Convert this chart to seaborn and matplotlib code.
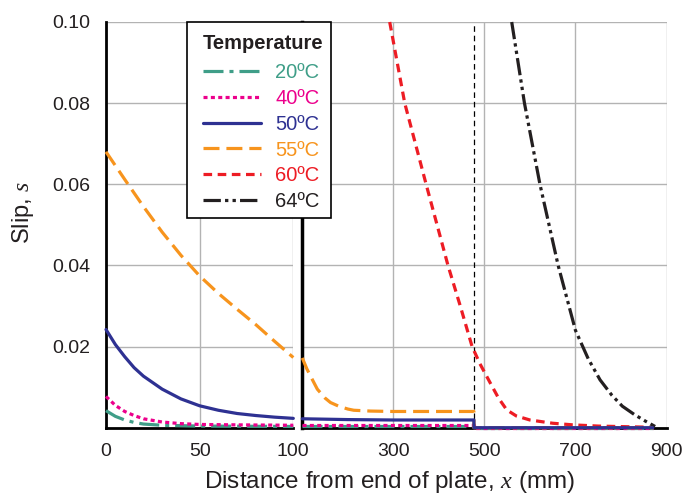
import matplotlib
matplotlib.use("Agg")
import matplotlib.pyplot as plt
import matplotlib.patches as mpatches
import seaborn as sns
import pandas as pd

# ---------------- data ----------------
temps = ["20ºC", "40ºC", "50ºC", "55ºC", "60ºC", "64ºC"]
colors = ["#3f9e88", "#ec008c", "#2e3192", "#f7941d", "#ed1c24", "#231f20"]

# left panel: 0-100 mm
x_l_20 = [0, 5, 10, 15, 20, 30, 50, 100]
s_l_20 = [0.0042, 0.0028, 0.0019, 0.0013, 0.0009, 0.0006, 0.0004, 0.0003]
x_l_40 = [0, 5, 10, 15, 20, 30, 40, 50, 70, 100]
s_l_40 = [0.0077, 0.0055, 0.0040, 0.0030, 0.0022, 0.0014, 0.0010, 0.0008, 0.0007, 0.0006]
x_l_50 = [0, 5, 10, 15, 20, 25, 30, 40, 50, 60, 70, 80, 90, 100]
s_l_50 = [0.0242, 0.0205, 0.0175, 0.0148, 0.0127, 0.0111, 0.0095, 0.0071, 0.0054,
          0.0043, 0.0035, 0.0030, 0.0026, 0.0023]
x_l_55 = [0, 10, 20, 30, 40, 50, 60, 70, 80, 90, 100]
s_l_55 = [0.0680, 0.0612, 0.0545, 0.0482, 0.0425, 0.0374, 0.0331, 0.0292, 0.0254,
          0.0213, 0.0173]

# right panel: 100-900 mm (step down at 477 mm)
x_r_20 = [100, 477, 477, 870]
s_r_20 = [0.0003, 0.0003, 0.0, 0.0]
x_r_40 = [100, 477, 477, 870]
s_r_40 = [0.0006, 0.0006, 0.0, 0.0]
x_r_50 = [100, 200, 300, 477, 477, 870]
s_r_50 = [0.0022, 0.0020, 0.0019, 0.0019, 0.0, 0.0]
x_r_55 = [100, 110, 120, 133, 150, 162, 180, 200, 213, 250, 300, 400, 477, 477, 870]
s_r_55 = [0.0172, 0.0145, 0.0123, 0.0095, 0.0073, 0.0062, 0.0053, 0.0046, 0.0043,
          0.0041, 0.0040, 0.0040, 0.0040, 0.0, 0.0]
x_r_60 = [292, 325, 372, 420, 447, 473, 490, 513, 531, 549, 570, 600, 650, 694, 750, 870]
s_r_60 = [0.100, 0.080, 0.060, 0.040, 0.030, 0.020, 0.0158, 0.0110, 0.0073, 0.0044,
          0.0029, 0.0019, 0.0011, 0.0007, 0.0004, 0.0001]
x_r_64 = [560, 588, 622, 662, 700, 728, 754, 780, 803, 830, 854, 875]
s_r_64 = [0.100, 0.080, 0.060, 0.040, 0.024, 0.0170, 0.0118, 0.0080, 0.0053, 0.0032,
          0.0016, 0.0003]

step_x = 477
left_ticks = [0, 50, 100]
right_ticks = [300, 500, 700, 900]
y_ticks = [0.02, 0.04, 0.06, 0.08, 0.10]

# ---------------- style ----------------
sns.set_style("white")
plt.rcParams["font.family"] = ["Liberation Sans", "DejaVu Sans"]
plt.rcParams["mathtext.fontset"] = "custom"
plt.rcParams["mathtext.it"] = "Liberation Serif:italic"
plt.rcParams["mathtext.rm"] = "Liberation Sans"
plt.rcParams["lines.scale_dashes"] = False

styles = [
    (0, (14.4, 4.3, 2.9, 4.3)),            # dash-dot
    (0, (2.9, 2.4)),                        # dotted
    "-",                                    # solid
    (0, (11.5, 5.0)),                       # dashed
    (0, (6.2, 4.0)),                        # short dashed
    (0, (12.5, 3.0, 2.4, 3.0, 2.4, 3.0)),  # dash-dot-dot
]
zorders = [3.1, 3.2, 3.6, 3.5, 3.3, 3.4]
lw = 2.3
text_col = "#231f20"

W, H = 690, 498
fig = plt.figure(figsize=(W / 100, H / 100), dpi=100)
y0, y1 = 427.7, 22.0
axL = fig.add_axes([106 / W, 1 - y0 / H, (293.3 - 106) / W, (y0 - y1) / H])
axR = fig.add_axes([302.3 / W, 1 - y0 / H, (666.5 - 302.3) / W, (y0 - y1) / H])

left_sets = [(x_l_20, s_l_20), (x_l_40, s_l_40), (x_l_50, s_l_50), (x_l_55, s_l_55)]
right_sets = [(x_r_20, s_r_20), (x_r_40, s_r_40), (x_r_50, s_r_50), (x_r_55, s_r_55),
              (x_r_60, s_r_60), (x_r_64, s_r_64)]

for i, (xs, ss) in enumerate(left_sets):
    df = pd.DataFrame({"x": xs, "s": ss})
    sns.lineplot(data=df, x="x", y="s", ax=axL, color=colors[i], linestyle=styles[i],
                 lw=lw, sort=False, estimator=None, zorder=zorders[i], clip_on=False)
for i, (xs, ss) in enumerate(right_sets):
    df = pd.DataFrame({"x": xs, "s": ss})
    sns.lineplot(data=df, x="x", y="s", ax=axR, color=colors[i], linestyle=styles[i],
                 lw=lw, sort=False, estimator=None, zorder=zorders[i], clip_on=False)

axR.axvline(step_x, color="black", lw=0.9, linestyle=(0, (4.0, 2.8)), zorder=2.5)

for ax in (axL, axR):
    ax.set_ylim(0, 0.1)
    ax.set_xlabel("")
    ax.set_ylabel("")
    ax.set_yticks(y_ticks)
    ax.grid(True, color="#b3b3b3", lw=1.0)
    ax.set_axisbelow(True)
    for side in ("top", "right"):
        ax.spines[side].set_visible(False)
    ax.spines["bottom"].set_color("black")
    ax.spines["bottom"].set_linewidth(2.0)
    ax.tick_params(axis="both", direction="in", length=5, width=1.5, color="black",
                   labelsize=14, labelcolor=text_col)
    ax.tick_params(axis="x", pad=11)
    ax.tick_params(axis="y", pad=11)

axL.set_xlim(0, 100)
axL.set_xticks(left_ticks)
axL.set_xticklabels([str(t) for t in left_ticks])
axL.set_yticklabels([f"{t:.2f}" for t in y_ticks])
axL.spines["left"].set_color("black")
axL.spines["left"].set_linewidth(2.0)

axR.set_xlim(100, 900)
axR.set_xticks(right_ticks)
axR.set_xticklabels([str(t) for t in right_ticks])
axR.tick_params(axis="y", left=False, labelleft=False)
axR.spines["left"].set_color("black")
axR.spines["left"].set_linewidth(2.5)

fig.text(390 / W, 1 - 482 / H, "Distance from end of plate, $x$ (mm)", ha="center",
         va="center", fontsize=17.5, color=text_col)
fig.text(23 / W, 1 - 212 / H, "Slip, $s$", ha="center", va="center", rotation=90,
         fontsize=17, color=text_col)

# legend: frame, title and entries
frame = mpatches.Rectangle((187 / W, 1 - 218 / H), (331 - 187) / W, (218 - 22) / H,
                           transform=fig.transFigure, facecolor="white",
                           edgecolor="black", lw=1.2, zorder=10)
fig.add_artist(frame)
fig.text(203 / W, 1 - 43.5 / H, "Temperature", ha="left", va="center",
         fontsize=14.5, fontweight="bold", color=text_col, zorder=11)

handles = [plt.Line2D([], [], color=c, linestyle=st, lw=lw) for c, st in zip(colors, styles)]
leg = fig.legend(handles, temps, loc="upper left",
                 bbox_to_anchor=(203 / W, 1 - 63 / H), bbox_transform=fig.transFigure,
                 frameon=False, fontsize=14.5,
                 handlelength=2.88, handletextpad=0.7, labelspacing=0.34,
                 borderpad=0, borderaxespad=0)
leg.set_zorder(12)
for t, c in zip(leg.get_texts(), colors):
    t.set_color(c)

fig.savefig("out.png", dpi=100)
